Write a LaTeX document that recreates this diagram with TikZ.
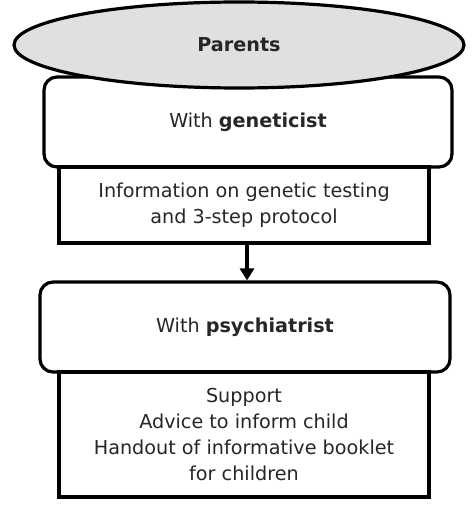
\documentclass[tikz,border=0pt]{standalone}
\usepackage{fontspec}
\setmainfont{DejaVu Sans}
\usetikzlibrary{shapes.geometric,arrows.meta}
\begin{document}
\begin{tikzpicture}[x=1pt,y=1pt,
  every node/.style={text=black!85, font=\fontsize{19.2}{26}\selectfont},
  rbox/.style={draw=black, line width=3.2pt, rounded corners=13pt, fill=white, inner sep=0pt},
  sbox/.style={draw=black, line width=3.2pt, fill=white, inner sep=0pt, align=center},
  oval/.style={ellipse, draw=black, line width=3.2pt, fill=black!12, inner sep=0pt},
  link/.style={draw=black, line width=3.2pt, -{Triangle[width=14pt,length=12pt]}}]
\useasboundingbox (0,0) rectangle (474,-508);
% geneticist
\node[rbox, minimum width=408, minimum height=90] (gen) at (248,-122) {With \textbf{geneticist}};
\node[sbox, minimum width=370, minimum height=76] (info) at (244,-205)
  {Information on genetic testing\\and 3-step protocol};
\node[oval, minimum width=450, minimum height=86] (par) at (239,-45) {\textbf{Parents}};
% psychiatrist
\node[rbox, minimum width=410, minimum height=90] (psy) at (245,-327) {With \textbf{psychiatrist}};
\node[sbox, minimum width=370, minimum height=125] (sup) at (244,-434.5)
  {Support\\Advice to inform child\\Handout of informative booklet\\for children};
\draw[link] (info.south -| 247,0) -- (psy.north -| 247,0);
\end{tikzpicture}
\end{document}
